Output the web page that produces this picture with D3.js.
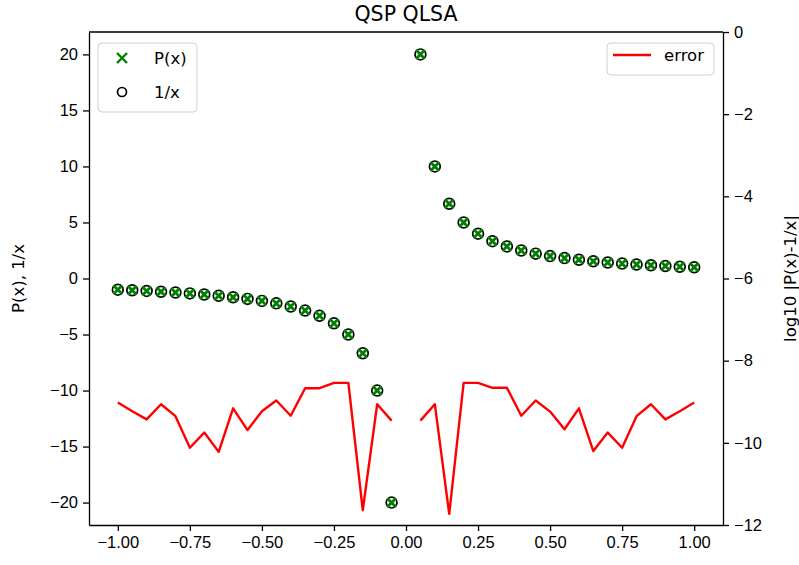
<!DOCTYPE html>
<html>
<head>
<meta charset="utf-8">
<script src="https://cdn.jsdelivr.net/npm/d3@7"></script>
<style>
  body { margin: 0; background: #fff; }
  svg { font-family: "DejaVu Sans", sans-serif; }
  .axis path, .axis line { stroke: #000; stroke-width: 1.3; }
  .axis text { font-size: 16.5px; fill: #000; }
</style>
</head>
<body>
<script>
// sample points (x) and the two curves
var xs = [-1.00, -0.95, -0.90, -0.85, -0.80, -0.75, -0.70, -0.65, -0.60, -0.55,
          -0.50, -0.45, -0.40, -0.35, -0.30, -0.25, -0.20, -0.15, -0.10, -0.05,
           0.05,  0.10,  0.15,  0.20,  0.25,  0.30,  0.35,  0.40,  0.45,  0.50,
           0.55,  0.60,  0.65,  0.70,  0.75,  0.80,  0.85,  0.90,  0.95,  1.00];
var invX = [-1.00, -1.05, -1.11, -1.18, -1.25, -1.33, -1.43, -1.54, -1.67, -1.82,
            -2.00, -2.22, -2.50, -2.86, -3.33, -4.00, -5.00, -6.67, -10.0, -20.0,
             20.0,  10.0,  6.67,  5.00,  4.00,  3.33,  2.86,  2.50,  2.22,  2.00,
             1.82,  1.67,  1.54,  1.43,  1.33,  1.25,  1.18,  1.11,  1.05,  1.00];
var polyX = [-1.00, -1.05, -1.11, -1.18, -1.25, -1.33, -1.43, -1.54, -1.67, -1.82,
             -2.00, -2.22, -2.50, -2.86, -3.33, -4.00, -5.00, -6.67, -10.0, -20.0,
              20.0,  10.0,  6.67,  5.00,  4.00,  3.33,  2.86,  2.50,  2.22,  2.00,
              1.82,  1.67,  1.54,  1.43,  1.33,  1.25,  1.18,  1.11,  1.05,  1.00];

// log10 error, x=0 left out (gap in the line)
var errX = [-1.00, -0.95, -0.90, -0.85, -0.80, -0.75, -0.70, -0.65, -0.60, -0.55,
            -0.50, -0.45, -0.40, -0.35, -0.30, -0.25, -0.20, -0.15, -0.10, -0.05,
             0.00,
             0.05,  0.10,  0.15,  0.20,  0.25,  0.30,  0.35,  0.40,  0.45,  0.50,
             0.55,  0.60,  0.65,  0.70,  0.75,  0.80,  0.85,  0.90,  0.95,  1.00];
var logErr = [-9.02, -9.23, -9.43, -9.06, -9.35, -10.12, -9.75, -10.22, -9.16, -9.69,
              -9.23, -8.97, -9.34, -8.67, -8.67, -8.54, -8.54, -11.64, -9.06, -9.46,
              null,
              -9.46, -9.06, -11.73, -8.54, -8.54, -8.66, -8.66, -9.34, -8.97, -9.24,
              -9.67, -9.16, -10.20, -9.75, -10.12, -9.35, -9.06, -9.43, -9.23, -9.02];

var leftTicks = [-20, -15, -10, -5, 0, 5, 10, 15, 20];
var rightTicks = [-12, -10, -8, -6, -4, -2, 0];
var bottomTicks = [-1.00, -0.75, -0.50, -0.25, 0.00, 0.25, 0.50, 0.75, 1.00];

var w = 799, h = 565;
var plotL = 89, plotR = 723, plotT = 32, plotB = 525;

var svg = d3.select("body").append("svg")
    .attr("width", w)
    .attr("height", h);

var xScale = d3.scaleLinear().domain([-1.1, 1.1]).range([plotL, plotR]);
var yScale = d3.scaleLinear().domain([-22, 22]).range([plotB, plotT]);
var y2Scale = d3.scaleLinear().domain([-12, 0]).range([plotB, plotT]);

// error line (right axis)
var line = d3.line()
    .defined(function(d, i) { return logErr[i] !== null; })
    .x(function(d) { return xScale(d); })
    .y(function(d, i) { return y2Scale(logErr[i]); });

svg.append("path")
    .datum(errX)
    .attr("d", line)
    .attr("fill", "none")
    .attr("stroke", "#ff0000")
    .attr("stroke-width", 2.4)
    .attr("stroke-linejoin", "round");

// 1/x as hollow circles
svg.selectAll("circle.inv")
    .data(xs)
    .enter()
    .append("circle")
    .attr("class", "inv")
    .attr("cx", function(d) { return xScale(d); })
    .attr("cy", function(d, i) { return yScale(invX[i]); })
    .attr("r", 5.4)
    .attr("fill", "none")
    .attr("stroke", "#000")
    .attr("stroke-width", 1.7);

// P(x) as green crosses
var cross = "M-4.3,-4.3L4.3,4.3M-4.3,4.3L4.3,-4.3";
svg.selectAll("path.px")
    .data(xs)
    .enter()
    .append("path")
    .attr("class", "px")
    .attr("d", cross)
    .attr("transform", function(d, i) {
        return "translate(" + xScale(d) + "," + yScale(polyX[i]) + ")";
    })
    .attr("stroke", "#008000")
    .attr("stroke-width", 2.8);

// axes
var fmt2 = d3.format(".2f");
svg.append("g")
    .attr("class", "axis")
    .attr("transform", "translate(0," + plotB + ")")
    .call(d3.axisBottom(xScale).tickValues(bottomTicks).tickFormat(fmt2)
        .tickSize(6).tickPadding(5).tickSizeOuter(0));

svg.append("g")
    .attr("class", "axis")
    .attr("transform", "translate(" + plotL + ",0)")
    .call(d3.axisLeft(yScale).tickValues(leftTicks).tickFormat(d3.format("d"))
        .tickSize(6).tickPadding(5).tickSizeOuter(0));

svg.append("g")
    .attr("class", "axis")
    .attr("transform", "translate(" + plotR + ",0)")
    .call(d3.axisRight(y2Scale).tickValues(rightTicks).tickFormat(d3.format("d"))
        .tickSize(6).tickPadding(5).tickSizeOuter(0));

// top spine
svg.append("line")
    .attr("x1", plotL).attr("x2", plotR)
    .attr("y1", plotT).attr("y2", plotT)
    .attr("stroke", "#000").attr("stroke-width", 1.3);

// title and axis labels
svg.append("text")
    .attr("x", (plotL + plotR) / 2).attr("y", 21)
    .attr("text-anchor", "middle")
    .attr("font-size", "20.5px")
    .text("QSP QLSA");

svg.append("text")
    .attr("transform", "translate(24," + (plotT + plotB) / 2 + ") rotate(-90)")
    .attr("text-anchor", "middle")
    .attr("font-size", "16.5px")
    .text("P(x), 1/x");

svg.append("text")
    .attr("transform", "translate(796," + (plotT + plotB) / 2 + ") rotate(-90)")
    .attr("text-anchor", "middle")
    .attr("font-size", "16.5px")
    .text("log10 |P(x)-1/x|");

// legends
var lg1 = svg.append("g").attr("transform", "translate(98,43)");
lg1.append("rect")
    .attr("width", 99).attr("height", 69).attr("rx", 4)
    .attr("fill", "#fff").attr("fill-opacity", 0.8)
    .attr("stroke", "#d0d0d0");
lg1.append("path")
    .attr("d", "M-5,-5L5,5M-5,5L5,-5")
    .attr("transform", "translate(24,15)")
    .attr("stroke", "#008000").attr("stroke-width", 2.4);
lg1.append("text").attr("x", 56).attr("y", 21).attr("font-size", "16.5px").text("P(x)");
lg1.append("circle")
    .attr("cx", 24).attr("cy", 49).attr("r", 4.5)
    .attr("fill", "none").attr("stroke", "#000").attr("stroke-width", 1.7);
lg1.append("text").attr("x", 56).attr("y", 55).attr("font-size", "16.5px").text("1/x");

var lg2 = svg.append("g").attr("transform", "translate(607,43)");
lg2.append("rect")
    .attr("width", 107).attr("height", 32).attr("rx", 4)
    .attr("fill", "#fff").attr("fill-opacity", 0.8)
    .attr("stroke", "#d0d0d0");
lg2.append("line")
    .attr("x1", 6).attr("x2", 44).attr("y1", 12).attr("y2", 12)
    .attr("stroke", "#ff0000").attr("stroke-width", 2.4);
lg2.append("text").attr("x", 57).attr("y", 18).attr("font-size", "16.5px").text("error");
</script>
</body>
</html>
